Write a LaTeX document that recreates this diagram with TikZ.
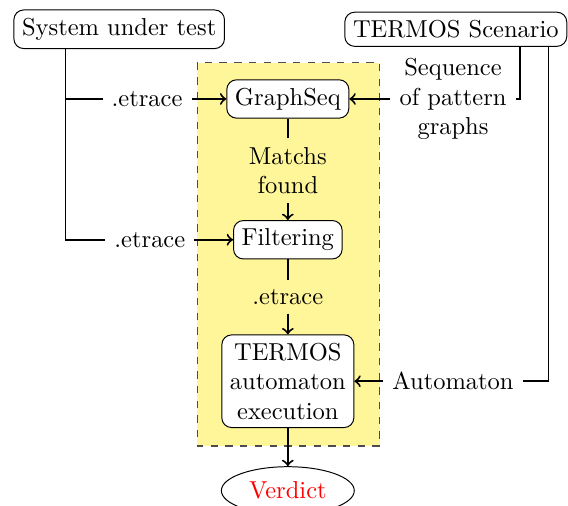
\documentclass[tikz,border=0pt]{standalone}
\usepackage{tikz}
\usetikzlibrary{shapes.geometric}
\definecolor{boxyellow}{RGB}{255,245,153}

\begin{document}
\begin{tikzpicture}[thick,
  block/.style={draw, rounded corners, fill=white, align=center, line width=0.4pt},
  lbl/.style={align=center}]
  \useasboundingbox (0,0) rectangle (8.15,-7.25);
  % monitor area
  \draw[dashed, draw=black!70, fill=boxyellow, line width=0.5pt] (2.83,-0.90) rectangle (5.45,-6.40);
  % inputs
  \node[block] (sut) at (1.71,-0.42) {System under test};
  \node[block] (scen) at (6.54,-0.42) {TERMOS Scenario};
  % processing chain
  \node[block] (gseq) at (4.13,-1.42) {GraphSeq};
  \node[block] (filt) at (4.13,-3.44) {Filtering};
  \node[block] (exec) at (4.13,-5.47) {TERMOS\\automaton\\execution};
  \node[draw, ellipse, line width=0.4pt, text=red] (verd) at (4.13,-7.04) {Verdict};
  % labels
  \node[lbl] (et1) at (2.11,-1.42) {.etrace};
  \node[lbl] (et2) at (2.15,-3.44) {.etrace};
  \node[lbl] (seq) at (6.50,-1.42) {Sequence\\of pattern\\graphs};
  \node[lbl] (aut) at (6.50,-5.47) {Automaton};
  \node[lbl] (match) at (4.13,-2.45) {Matchs\\found};
  \node[lbl] (et3) at (4.13,-4.26) {.etrace};
  % connectors
  \draw ([xshift=-0.77cm]sut.south) |- (et1.west);
  \draw ([xshift=-0.77cm]sut.south) |- (et2.west);
  \draw[->] (et1) -- (gseq);
  \draw[->] (et2) -- (filt);
  \draw ([xshift=0.92cm]scen.south) |- (seq.east);
  \draw[->] (seq) -- (gseq);
  \draw ([xshift=1.33cm]scen.south) |- (aut.east);
  \draw[->] (aut) -- (exec);
  \draw (gseq) -- (match);
  \draw[->] (match) -- (filt);
  \draw (filt) -- (et3);
  \draw[->] (et3) -- (exec);
  \draw[->] (exec) -- (verd);
\end{tikzpicture}
\end{document}
